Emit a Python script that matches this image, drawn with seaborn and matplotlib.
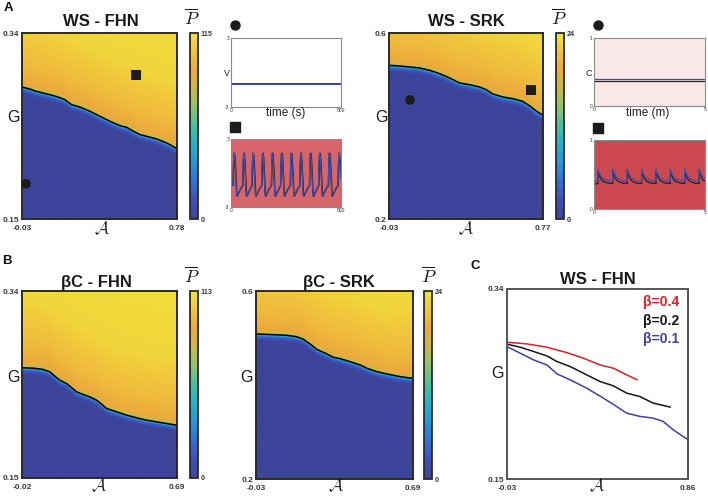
import numpy as np
import matplotlib
matplotlib.use("Agg")
import matplotlib.pyplot as plt
import seaborn as sns
from matplotlib.colors import LinearSegmentedColormap

# ------------------------------------------------------------------ data
# panel A : WS - FHN   (synchronisation boundary)
ws_fhn_A = [-0.03, 0.0102, 0.0452, 0.0802, 0.1152, 0.1589, 0.1939, 0.2289, 0.2727, 0.3251,
            0.3776, 0.4301, 0.4826, 0.5176, 0.5525, 0.5875, 0.6225, 0.6750, 0.7275, 0.78]
ws_fhn_G = [0.2848, 0.2828, 0.2804, 0.2787, 0.2770, 0.2746, 0.2719, 0.2668, 0.2644, 0.2600,
            0.2549, 0.2498, 0.2453, 0.2436, 0.2396, 0.2361, 0.2344, 0.2317, 0.2276, 0.2218]
# panel A : WS - SRK
ws_srk_A = [-0.03, 0.0269, 0.0786, 0.1303, 0.1821, 0.2338, 0.2855, 0.3372, 0.3890, 0.4407,
            0.4752, 0.5097, 0.5614, 0.6131, 0.6648, 0.6993, 0.7379, 0.77]
ws_srk_G = [0.5305, 0.5290, 0.5269, 0.5247, 0.5197, 0.5125, 0.5032, 0.4925, 0.4889, 0.4839,
            0.4781, 0.4688, 0.4624, 0.4588, 0.4530, 0.4437, 0.4315, 0.4229]
# panel B : betaC - FHN
bc_fhn_A = [-0.02, 0.0306, 0.0766, 0.1073, 0.1303, 0.1533, 0.1840, 0.2069, 0.2300, 0.2606, 0.2913,
            0.3220, 0.3450, 0.3680, 0.4140, 0.4600, 0.5060, 0.5520, 0.5980, 0.6440, 0.69]
bc_fhn_G = [0.2620, 0.2616, 0.2603, 0.2579, 0.2535, 0.2494, 0.2460, 0.2419, 0.2375, 0.2348, 0.2324,
            0.2290, 0.2250, 0.2206, 0.2172, 0.2138, 0.2111, 0.2087, 0.2070, 0.2053, 0.2036]
# panel B : betaC - SRK
bc_srk_A = [-0.03, 0.0497, 0.1109, 0.1569, 0.1875, 0.2182, 0.2488, 0.2948, 0.3254, 0.3560,
            0.4020, 0.4480, 0.4786, 0.5246, 0.5706, 0.6318, 0.69]
bc_srk_G = [0.5085, 0.5071, 0.5057, 0.5028, 0.4972, 0.4872, 0.4759, 0.4660, 0.4589, 0.4560,
            0.4496, 0.4426, 0.4355, 0.4284, 0.4234, 0.4177, 0.4142]

# colour-bar maxima
pmax_ws_fhn, pmax_ws_srk, pmax_bc_fhn, pmax_bc_srk = 115, 24, 113, 24
# power (fraction of max) versus distance above the boundary (fraction of G range)
prof_d = [-1.0, -0.035, -0.012, 0.0, 0.008, 0.03, 0.12, 0.35, 1.0]
prof_f = [0.0, 0.0, 0.18, 0.48, 0.72, 0.80, 0.86, 0.95, 1.0]

# markers (A, G)
ws_fhn_circle, ws_fhn_square = (-0.009, 0.186), (0.566, 0.297)
ws_srk_circle, ws_srk_square = (0.079, 0.456), (0.708, 0.477)

# inset time series
fhn_rest_V = -1.0
fhn_start_V = -0.7
fhn_peaks = [14, 58, 100, 144, 188, 230, 274, 317, 361, 403, 447, 491]
fhn_cycle_dt = [-5, -3, -1, 0, 3, 8, 11, 13, 20, 30]
fhn_cycle_v = [-1.1, 0.8, 1.65, 1.75, 1.4, -0.5, -1.9, -2.05, -1.75, -1.35]
srk_rest_blue, srk_rest_black = 0.40, 0.366
srk_peaks = [0.185, 0.849, 1.497, 2.145, 2.793, 3.441, 4.090, 4.738]
srk_cycle_dt = [0.0, 0.05, 0.12, 0.2, 0.3, 0.45, 0.64]
srk_cycle_blue = [0.58, 0.53, 0.48, 0.45, 0.43, 0.41, 0.40]
srk_cycle_black = [0.54, 0.49, 0.44, 0.41, 0.39, 0.375, 0.37]

# panel C : WS - FHN boundaries for several beta
c_red_A = [-0.03, 0.068, 0.166, 0.264, 0.3456, 0.4273, 0.4926, 0.5579, 0.6102]
c_red_G = [0.2868, 0.2851, 0.2818, 0.2764, 0.2708, 0.2641, 0.2608, 0.2542, 0.2492]
c_blk_A = [-0.03, 0.0353, 0.1006, 0.166, 0.215, 0.2803, 0.3456, 0.4273, 0.4926, 0.5579,
           0.6232, 0.6885, 0.7735]
c_blk_G = [0.2848, 0.2818, 0.2775, 0.2731, 0.2675, 0.2625, 0.2558, 0.2475, 0.2432, 0.2359,
           0.2325, 0.2259, 0.2219]
c_blu_A = [-0.03, 0.0353, 0.1006, 0.166, 0.215, 0.2803, 0.3620, 0.4436, 0.5089, 0.5579,
           0.6232, 0.6885, 0.7375, 0.7865, 0.86]
c_blu_G = [0.2824, 0.2758, 0.2691, 0.2641, 0.2552, 0.2492, 0.2408, 0.2309, 0.2225, 0.2159,
           0.2126, 0.2109, 0.2076, 0.1993, 0.1893]
beta_labels = ["β=0.4", "β=0.2", "β=0.1"]

# ------------------------------------------------------------------ style
sns.set_theme(style="white")
plt.rcParams["font.family"] = ["Liberation Sans", "DejaVu Sans"]
plt.rcParams["mathtext.fontset"] = "cm"

W, H = 708, 496
fig = plt.figure(figsize=(W / 100, H / 100), dpi=100)


def rect(x0, y0, x1, y1):
    return [x0 / W, 1 - y1 / H, (x1 - x0) / W, (y1 - y0) / H]


def ftext(x, y, s, **kw):
    fig.text(x / W, 1 - y / H, s, ha=kw.pop("ha", "center"), va=kw.pop("va", "center"), **kw)


parula = LinearSegmentedColormap.from_list(
    "parula_like",
    ["#3c4599", "#3e4fb8", "#3470d8", "#2596da", "#23b2c8", "#48bfa0",
     "#8ec36e", "#c9b94a", "#eca93c", "#f1c43c", "#f1e43a"])

TICKC = "#3a3a3a"


def style_ticks(ax, size=6.0):
    ax.tick_params(axis="y", length=0, pad=2, labelsize=size, colors=TICKC)
    ax.tick_params(axis="x", length=0, pad=4, labelsize=size, colors=TICKC)
    for lab in ax.get_xticklabels() + ax.get_yticklabels():
        lab.set_fontweight("bold")


def heat(r, cbr, A_rng, G_rng, bA, bG, pmax, title, tpos, ppos, gpos, apos, alabels, glabels):
    ax = fig.add_axes(rect(*r))
    a = np.linspace(A_rng[0], A_rng[1], 400)
    g = np.linspace(G_rng[0], G_rng[1], 400)
    gb = np.interp(a, bA, bG)
    d = (g[:, None] - gb[None, :]) / (G_rng[1] - G_rng[0])
    P = np.interp(d, prof_d, prof_f) * pmax
    im = ax.imshow(P, origin="lower", extent=[A_rng[0], A_rng[1], G_rng[0], G_rng[1]],
                   aspect="auto", cmap=parula, vmin=0, vmax=pmax, interpolation="bilinear")
    sns.lineplot(x=bA, y=bG, ax=ax, color="black", lw=1.1, sort=False, estimator=None)
    ax.set_xlim(*A_rng)
    ax.set_ylim(*G_rng)
    ax.set_xticks(A_rng, alabels)
    ax.set_yticks(G_rng, glabels)
    style_ticks(ax)
    for s in ax.spines.values():
        s.set_visible(True)
        s.set_color("#2a2a2a")
        s.set_linewidth(1.4)
    ax.set_xlabel("")
    ax.set_ylabel("")
    cax = fig.add_axes(rect(*cbr))
    cb = fig.colorbar(im, cax=cax, ticks=[0, pmax])
    cb.ax.tick_params(length=0, pad=2, labelsize=5.2, colors=TICKC)
    for lab in cb.ax.get_yticklabels():
        lab.set_fontweight("bold")
    cb.outline.set_edgecolor("#2a2a2a")
    cb.outline.set_linewidth(1.3)
    ftext(*tpos, title, fontsize=12, fontweight="bold", color="#1a1a1a")
    ftext(*ppos, r"$\overline{P}$", fontsize=13, color="#1a1a1a")
    ftext(*gpos, "G", fontsize=11.5, color="#1a1a1a")
    ftext(*apos, r"$\mathcal{A}$", fontsize=12.5, color="#1a1a1a")
    return ax


ax1 = heat((22, 33, 177, 219), (190, 33, 198, 219), (-0.03, 0.78), (0.15, 0.34),
           ws_fhn_A, ws_fhn_G, pmax_ws_fhn, "WS - FHN", (101, 22), (192, 18), (13, 117), (102, 229),
           ["-0.03", "0.78"], ["0.15", "0.34"])
ax2 = heat((389, 33, 543, 219), (556, 33, 564, 219), (-0.03, 0.77), (0.2, 0.6),
           ws_srk_A, ws_srk_G, pmax_ws_srk, "WS - SRK", (466, 22), (559, 18), (381, 118), (466, 229),
           ["-0.03", "0.77"], ["0.2", "0.6"])
ax3 = heat((22, 291, 177, 478), (190, 291, 198, 478), (-0.02, 0.69), (0.15, 0.34),
           bc_fhn_A, bc_fhn_G, pmax_bc_fhn, "βC - FHN", (96, 282), (192, 276), (13, 378), (99, 486),
           ["-0.02", "0.69"], ["0.15", "0.34"])
ax4 = heat((256, 291, 413, 479), (424, 291, 432, 479), (-0.03, 0.69), (0.2, 0.6),
           bc_srk_A, bc_srk_G, pmax_bc_srk, "βC - SRK", (339, 282), (429, 276), (247, 377), (336, 486),
           ["-0.03", "0.69"], ["0.2", "0.6"])

# markers in the WS maps
for ax, circ, sq in [(ax1, ws_fhn_circle, ws_fhn_square), (ax2, ws_srk_circle, ws_srk_square)]:
    sns.scatterplot(x=[circ[0]], y=[circ[1]], ax=ax, marker="o", s=48, color="#1c1c1c",
                    edgecolor="none", clip_on=False, zorder=5)
    sns.scatterplot(x=[sq[0]], y=[sq[1]], ax=ax, marker="s", s=52, color="#1c1c1c",
                    edgecolor="none", clip_on=False, zorder=5)


# ------------------------------------------------------------------ insets
def inset(r, bg, xlim, ylim, xl, yl):
    ax = fig.add_axes(rect(*r))
    ax.set_facecolor(bg)
    ax.set_xlim(*xlim)
    ax.set_ylim(*ylim)
    ax.set_xticks(xlim, xl)
    ax.set_yticks(ylim, yl)
    ax.tick_params(length=0, pad=1, labelsize=3.6, colors="#333333")
    for s in ax.spines.values():
        s.set_visible(True)
        s.set_color("#8a8a8a")
        s.set_linewidth(0.8)
    return ax


def build(peaks, dts, vals, start, end, rest):
    t, v = [start], [rest]
    for p in peaks:
        for dt, val in zip(dts, vals):
            if t[-1] < p + dt <= end:
                t.append(p + dt)
                v.append(val)
    if t[-1] < end:
        t.append(end)
        v.append(v[-1])
    return t, v


BLUE = "#3d4fb0"
# FHN, circle
i1 = inset((231, 38, 341, 107), "white", (0, 500), (-3, 3), ["0", "500"], ["-3", "3"])
sns.lineplot(x=[0, 500], y=[fhn_rest_V, fhn_rest_V], ax=i1, color="#222222", lw=1.2)
sns.lineplot(x=[0, 500], y=[fhn_rest_V, fhn_rest_V], ax=i1, color=BLUE, lw=0.7)
# FHN, square
i2 = inset((231, 139, 341, 207), "#d8656a", (0, 500), (-3, 3), ["0", "500"], ["-3", "3"])
tb, vb = build(fhn_peaks, fhn_cycle_dt, fhn_cycle_v, 0, 500, fhn_start_V)
sns.lineplot(x=np.array(tb) + 1.0, y=vb, ax=i2, color="#222222", lw=1.1, sort=False,
             estimator=None)
sns.lineplot(x=tb, y=vb, ax=i2, color=BLUE, lw=0.8, sort=False, estimator=None)
# SRK, circle
i3 = inset((594, 38, 705, 106), "#f9e8e8", (0, 5), (0, 1), ["0", "5"], ["0", "1"])
sns.lineplot(x=[0, 5], y=[srk_rest_blue, srk_rest_blue], ax=i3, color=BLUE, lw=0.9)
sns.lineplot(x=[0, 5], y=[srk_rest_black, srk_rest_black], ax=i3, color="#222222", lw=0.9)
# SRK, square
i4 = inset((594, 140, 705, 209), "#cc4a4f", (0, 5), (0, 1), ["0", "5"], ["0", "1"])
tb, vb = build(srk_peaks, [-0.004] + srk_cycle_dt, [srk_rest_blue] + srk_cycle_blue, 0, 5,
               srk_rest_blue)
tk, vk = build(srk_peaks, [-0.004] + srk_cycle_dt, [srk_rest_black] + srk_cycle_black, 0, 5,
               srk_rest_black)
sns.lineplot(x=tk, y=vk, ax=i4, color="#222222", lw=0.9, sort=False, estimator=None)
sns.lineplot(x=tb, y=vb, ax=i4, color=BLUE, lw=0.9, sort=False, estimator=None)

for ax in (i1, i2, i3, i4):
    ax.set_xlabel("")
    ax.set_ylabel("")

# inset markers and labels
for ax, mk, yy in [(i1, "o", 1.19), (i2, "s", 1.18), (i3, "o", 1.19), (i4, "s", 1.18)]:
    ax.scatter([0.04], [yy], transform=ax.transAxes, marker=mk, s=42, color="#1c1c1c",
               clip_on=False)
ftext(227, 73, "V", fontsize=6.5, color="#222222")
ftext(589, 74, "C", fontsize=6.5, color="#222222")
ftext(286, 113, "time (s)", fontsize=8.5, color="#222222")
ftext(648, 113, "time (m)", fontsize=8.5, color="#222222")

# ------------------------------------------------------------------ panel C
axc = fig.add_axes(rect(507, 289, 688, 479))
sns.lineplot(x=c_red_A, y=c_red_G, ax=axc, color="#dd1f2a", lw=1.1, sort=False, estimator=None)
sns.lineplot(x=c_blk_A, y=c_blk_G, ax=axc, color="#151515", lw=1.1, sort=False, estimator=None)
sns.lineplot(x=c_blu_A, y=c_blu_G, ax=axc, color="#3e3ea6", lw=1.1, sort=False, estimator=None)
axc.set_xlim(-0.03, 0.86)
axc.set_ylim(0.15, 0.34)
axc.set_xticks([-0.03, 0.86], ["-0.03", "0.86"])
axc.set_yticks([0.15, 0.34], ["0.15", "0.34"])
style_ticks(axc)
for s in axc.spines.values():
    s.set_visible(True)
    s.set_color("#555555")
    s.set_linewidth(1.4)
axc.set_xlabel("")
axc.set_ylabel("")
ftext(598, 280, "WS - FHN", fontsize=12, fontweight="bold", color="#1a1a1a")
ftext(497, 374, "G", fontsize=11.5, color="#1a1a1a")
ftext(597, 486, r"$\mathcal{A}$", fontsize=12.5, color="#1a1a1a")
for lab, col, yy in zip(beta_labels, ["#dd1f2a", "#151515", "#3e3ea6"], [302, 321, 339]):
    ftext(679, yy, lab, fontsize=10, fontweight="bold", color=col, ha="right")

# panel letters
ftext(8, 8, "A", fontsize=9.5, fontweight="bold", color="#111111")
ftext(7, 261, "B", fontsize=9.5, fontweight="bold", color="#111111")
ftext(475, 266, "C", fontsize=9.5, fontweight="bold", color="#111111")

fig.savefig("out.png", dpi=100)
